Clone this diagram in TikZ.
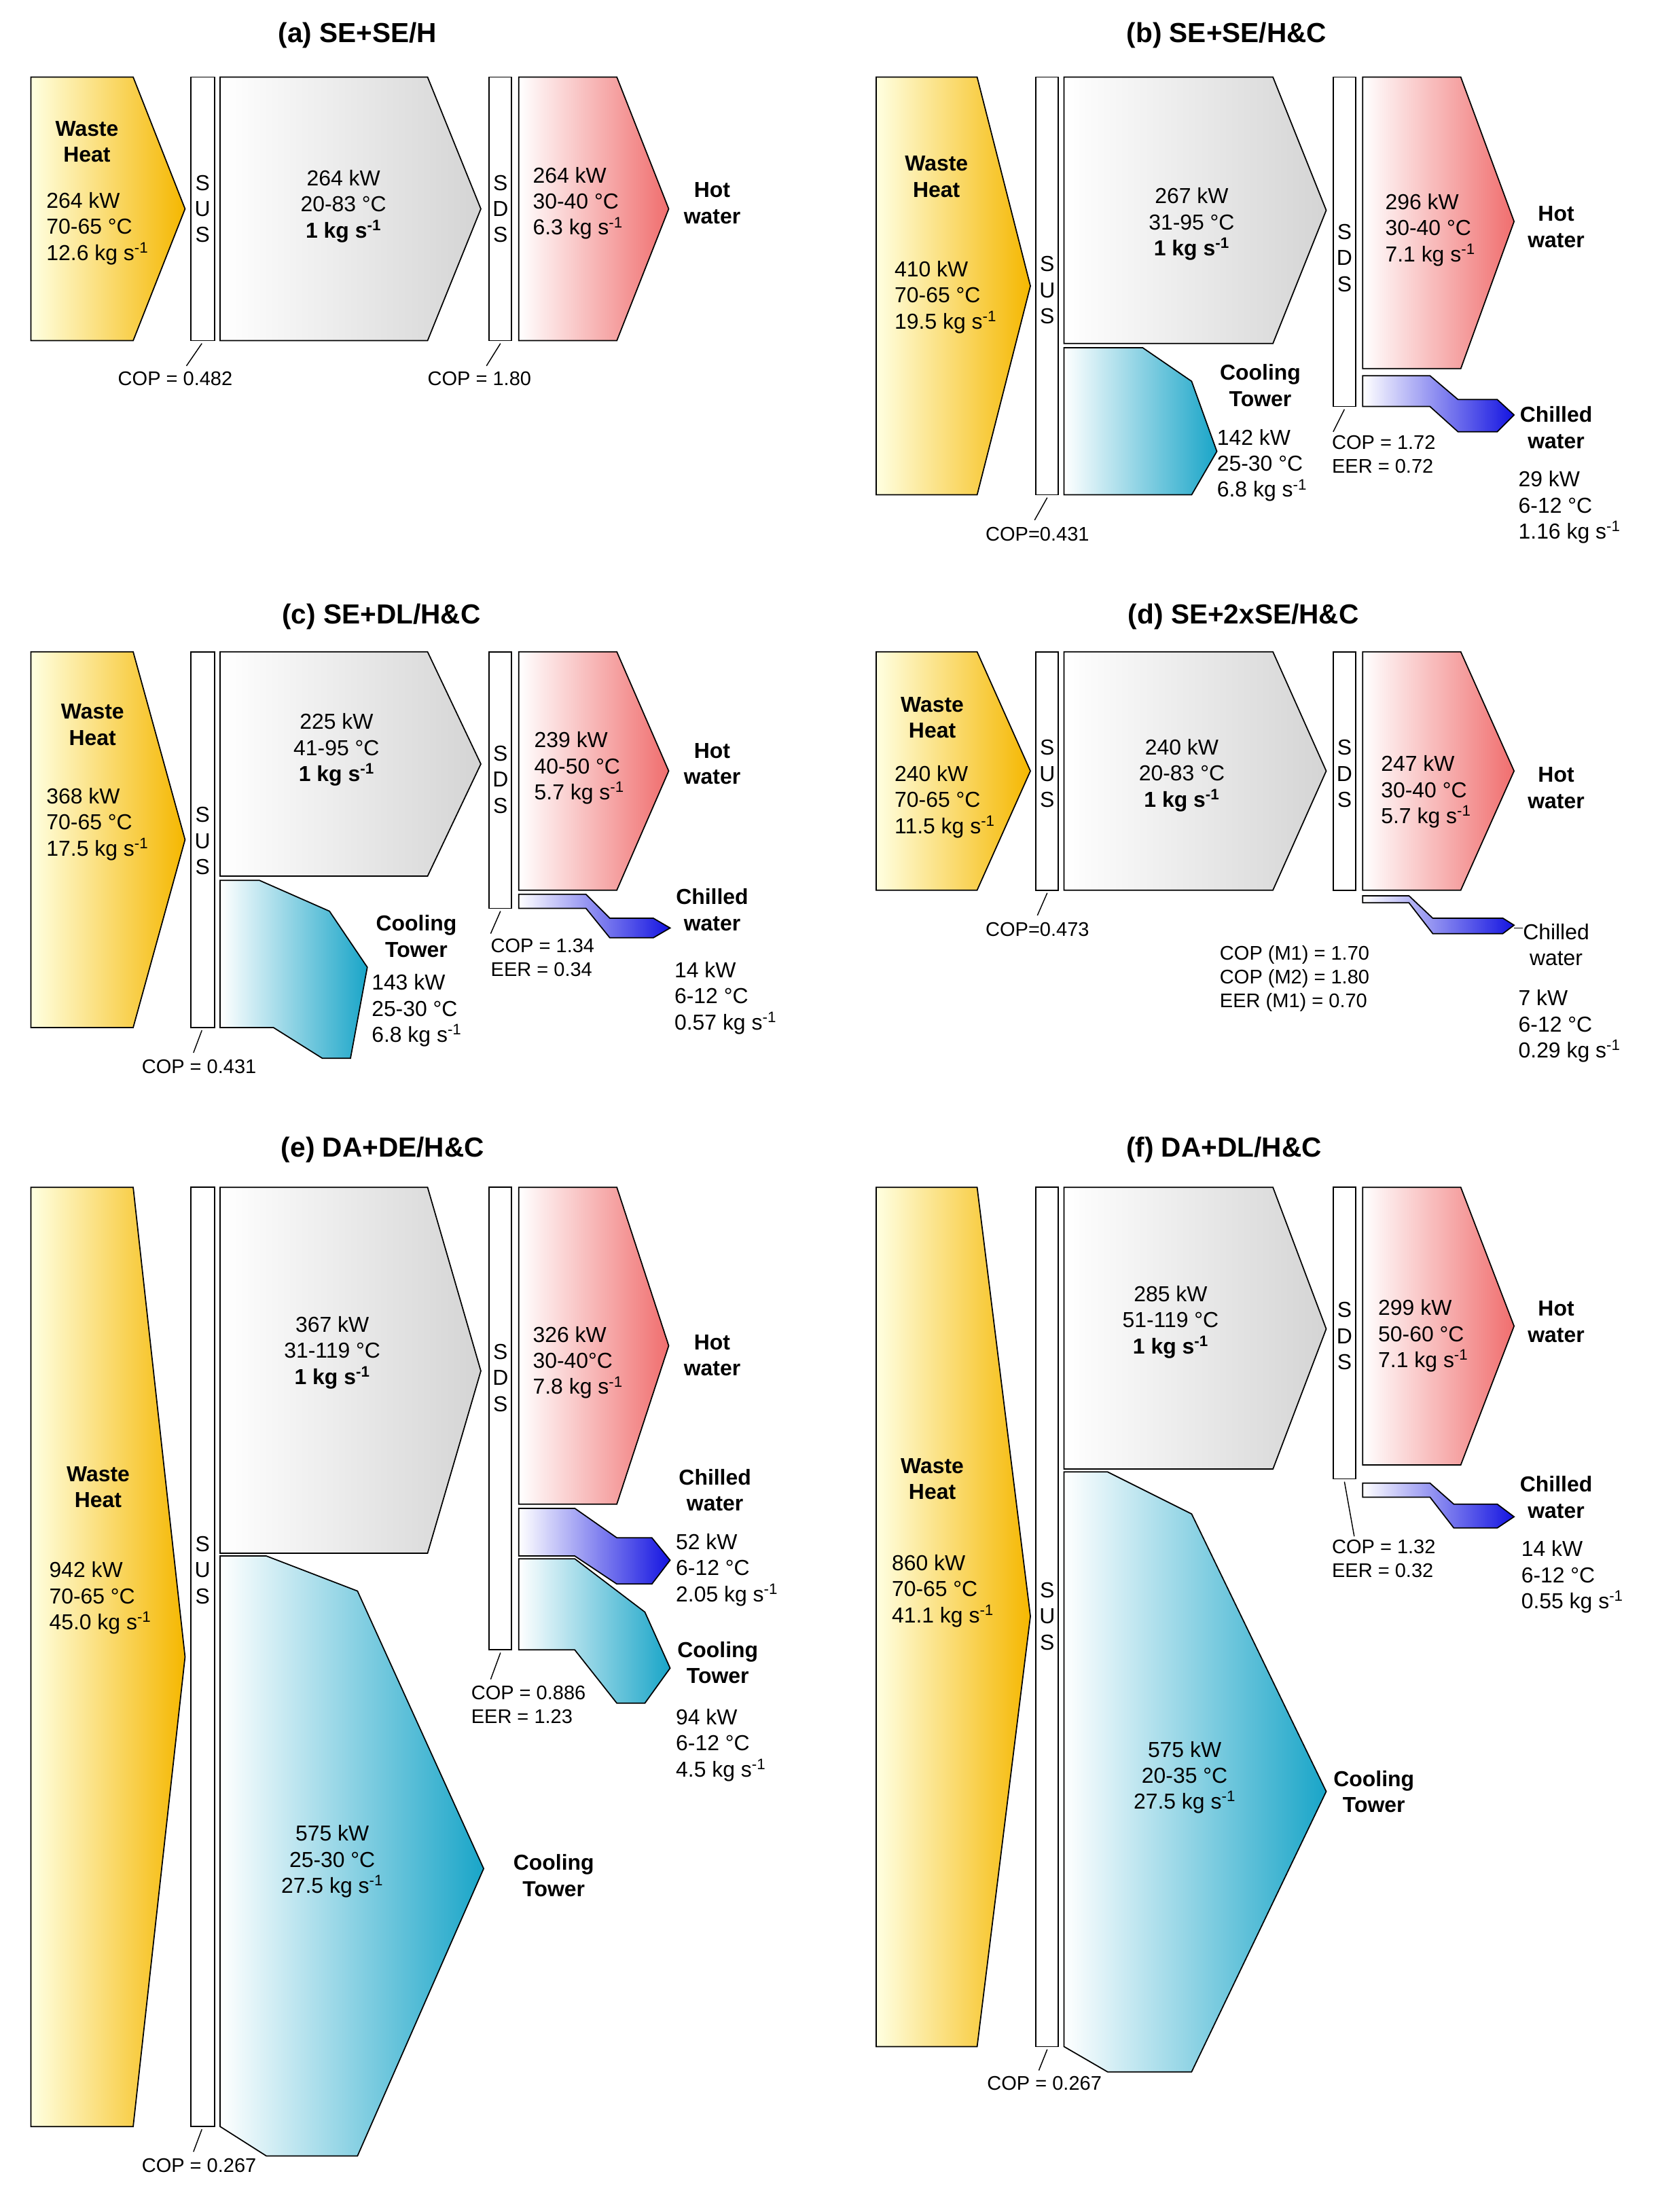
\documentclass[tikz,border=0pt]{standalone}
\usepackage{fontspec}
\setmainfont{Liberation Sans}
\begin{document}
\newcommand{\ks}{kg s\textsuperscript{-1}}
\begin{tikzpicture}[x=0.05cm,y=-0.05cm,
  every node/.style={font=\fontsize{22}{26.5}\selectfont,align=center,inner sep=0pt},
  ln/.style={draw=black,line width=1.2pt,line join=miter},
  wh/.style={ln,left color=yellow!12!white,right color={rgb,255:red,245;green,183;blue,0}},
  gr/.style={ln,left color=white,right color={rgb,255:red,212;green,212;blue,212}},
  rd/.style={ln,left color=white,right color={rgb,255:red,240;green,110;blue,110}},
  bl/.style={ln,left color=white,right color={rgb,255:red,20;green,20;blue,225}},
  cy/.style={ln,left color=white,right color={rgb,255:red,25;green,165;blue,200}},
  bar/.style={ln,fill=white},
  ttl/.style={font=\fontsize{28}{32}\selectfont\bfseries},
  bo/.style={font=\fontsize{22}{26.5}\selectfont\bfseries},
  sm/.style={font=\fontsize{20}{24}\selectfont},
  lead/.style={draw=black,line width=1pt}]
\useasboundingbox (0,0) rectangle (1184,1578);
% ===== (a)
\node[ttl] (ta) at (255,25) {(a) SE+SE/H};
\path[wh] (22,55)--(95,55)--(132,149)--(95,243)--(22,243)--cycle;
\path[bar] (136,55) rectangle (153,243);
\node (sa) at (144.5,149) {S\\U\\S};
\path[gr] (157,55)--(305,55)--(343,149)--(305,243)--(157,243)--cycle;
\path[bar] (349,55) rectangle (365,243);
\node (da) at (357,149) {S\\D\\S};
\path[rd] (370,55)--(440,55)--(477,149)--(440,243)--(370,243)--cycle;
\node[bo] (wa) at (62,101) {Waste\\Heat};
\node[anchor=west,align=left] (wan) at (33,163) {264 kW\\70-65 °C\\12.6 \ks};
\node (ga) at (245,147) {264 kW\\20-83 °C\\\textbf{1 \ks}};
\node[anchor=west,align=left] (ra) at (380,145) {264 kW\\30-40 °C\\6.3 \ks};
\node[bo] (ha) at (508,145) {Hot\\water};
\node[sm] (ca1) at (125,270) {COP = 0.482};
\node[sm] (ca2) at (342,270) {COP = 1.80};
\draw[lead] (144,245)--(133,261);
\draw[lead] (357,245)--(347,261);
% ===== (b)
\node[ttl] (tb) at (875,25) {(b) SE+SE/H\&C};
\path[wh] (625,55)--(697,55)--(735,204)--(697,353)--(625,353)--cycle;
\path[bar] (739,55) rectangle (755,353);
\node (sb) at (747,207) {S\\U\\S};
\path[gr] (759,55)--(908,55)--(946,150)--(908,245)--(759,245)--cycle;
\path[cy] (759,248)--(815,248)--(850,272)--(868,322)--(850,353)--(759,353)--cycle;
\path[bar] (951,55) rectangle (967,290);
\node (db) at (959,184) {S\\D\\S};
\path[rd] (972,55)--(1042,55)--(1080,158)--(1042,263)--(972,263)--cycle;
\path[bl] (972,268)--(1020,268)--(1040,285)--(1068,285)--(1080,296)--(1068,308)--(1040,308)--(1020,290)--(972,290)--cycle;
\node[bo] (wb) at (668,126) {Waste\\Heat};
\node[anchor=west,align=left] (wbn) at (638,212) {410 kW\\70-65 °C\\19.5 \ks};
\node (gb) at (850,160) {267 kW\\31-95 °C\\\textbf{1 \ks}};
\node[anchor=west,align=left] (rb) at (988,164) {296 kW\\30-40 °C\\7.1 \ks};
\node[bo] (hb) at (1110,162) {Hot\\water};
\node[bo] (cb) at (899,275) {Cooling\\Tower};
\node[anchor=west,align=left] (cbn) at (868,332) {142 kW\\25-30 °C\\6.8 \ks};
\node[bo] (chb) at (1110,305) {Chilled\\water};
\node[anchor=west,align=left] (chbn) at (1083,362) {29 kW\\6-12 °C\\1.16 \ks};
\node[sm,anchor=west,align=left] (eb) at (950,324) {COP = 1.72\\EER = 0.72};
\node[sm] (cb1) at (740,381) {COP=0.431};
\draw[lead] (747,355)--(738,371);
\draw[lead] (959,292)--(951,308);
% ===== (c)
\node[ttl] (tc) at (272,440) {(c) SE+DL/H\&C};
\path[wh] (22,465)--(95,465)--(132,599)--(95,733)--(22,733)--cycle;
\path[bar] (136,465) rectangle (153,733);
\node (sc) at (144.5,600) {S\\U\\S};
\path[gr] (157,465)--(305,465)--(343,545)--(305,625)--(157,625)--cycle;
\path[cy] (157,628)--(185,628)--(235,650)--(262,690)--(250,755)--(230,755)--(195,733)--(157,733)--cycle;
\path[bar] (349,465) rectangle (365,648);
\node (dc) at (357,556) {S\\D\\S};
\path[rd] (370,465)--(440,465)--(477,550)--(440,635)--(370,635)--cycle;
\path[bl] (370,638)--(418,638)--(435,655)--(466,655)--(478,662)--(466,669)--(435,669)--(418,648)--(370,648)--cycle;
\node[bo] (wc) at (66,517) {Waste\\Heat};
\node[anchor=west,align=left] (wcn) at (33,588) {368 kW\\70-65 °C\\17.5 \ks};
\node (gc) at (240,535) {225 kW\\41-95 °C\\\textbf{1 \ks}};
\node[anchor=west,align=left] (rc) at (381,548) {239 kW\\40-50 °C\\5.7 \ks};
\node[bo] (hc) at (508,545) {Hot\\water};
\node[bo] (cc) at (297,668) {Cooling\\Tower};
\node[anchor=west,align=left] (ccn) at (265,721) {143 kW\\25-30 °C\\6.8 \ks};
\node[bo] (chc) at (508,649) {Chilled\\water};
\node[anchor=west,align=left] (chcn) at (481,712) {14 kW\\6-12 °C\\0.57 \ks};
\node[sm,anchor=west,align=left] (ec) at (350,683) {COP = 1.34\\EER = 0.34};
\node[sm] (cc1) at (142,761) {COP = 0.431};
\draw[lead] (144,735)--(138,751);
\draw[lead] (357,650)--(350,666);
% ===== (d)
\node[ttl] (td) at (887,440) {(d) SE+2xSE/H\&C};
\path[wh] (625,465)--(697,465)--(735,550)--(697,635)--(625,635)--cycle;
\path[bar] (739,465) rectangle (755,635);
\node (sd) at (747,552) {S\\U\\S};
\path[gr] (759,465)--(908,465)--(946,550)--(908,635)--(759,635)--cycle;
\path[bar] (951,465) rectangle (967,635);
\node (dd) at (959,552) {S\\D\\S};
\path[rd] (972,465)--(1042,465)--(1080,550)--(1042,635)--(972,635)--cycle;
\path[bl] (972,639)--(1005,639)--(1022,655)--(1072,655)--(1080,660)--(1072,666)--(1022,666)--(1005,644)--(972,644)--cycle;
\draw[lead] (1080,662)--(1086,662);
\node[bo] (wd) at (665,512) {Waste\\Heat};
\node[anchor=west,align=left] (wdn) at (638,572) {240 kW\\70-65 °C\\11.5 \ks};
\node (gd) at (843,553) {240 kW\\20-83 °C\\\textbf{1 \ks}};
\node[anchor=west,align=left] (rd) at (985,565) {247 kW\\30-40 °C\\5.7 \ks};
\node[bo] (hd) at (1110,562) {Hot\\water};
\node (chd) at (1110,674) {Chilled\\water};
\node[anchor=west,align=left] (chdn) at (1083,732) {7 kW\\6-12 °C\\0.29 \ks};
\node[sm,anchor=west,align=left] (ed) at (870,698) {COP (M1) = 1.70\\COP (M2) = 1.80\\EER (M1) = 0.70};
\node[sm] (cd1) at (740,663) {COP=0.473};
\draw[lead] (747,637)--(740,653);
% ===== (e)
\node[ttl] (te) at (273,820) {(e) DA+DE/H\&C};
\path[wh] (22,847)--(95,847)--(132,1182)--(95,1517)--(22,1517)--cycle;
\path[bar] (136,847) rectangle (153,1517);
\node (se) at (144.5,1120) {S\\U\\S};
\path[gr] (157,847)--(305,847)--(343,978)--(305,1108)--(157,1108)--cycle;
\path[cy] (157,1110)--(190,1110)--(255,1135)--(345,1333)--(255,1538)--(190,1538)--(157,1517)--cycle;
\path[bar] (349,847) rectangle (365,1177);
\node (de) at (357,983) {S\\D\\S};
\path[rd] (370,847)--(440,847)--(477,960)--(440,1073)--(370,1073)--cycle;
\path[bl] (370,1076)--(410,1076)--(440,1097)--(465,1097)--(478,1113)--(465,1130)--(440,1130)--(410,1110)--(370,1110)--cycle;
\path[cy] (370,1112)--(410,1112)--(460,1150)--(478,1190)--(460,1215)--(440,1215)--(410,1177)--(370,1177)--cycle;
\node[bo] (we) at (70,1061) {Waste\\Heat};
\node[anchor=west,align=left] (wen) at (35,1140) {942 kW\\70-65 °C\\45.0 \ks};
\node (ge) at (237,965) {367 kW\\31-119 °C\\\textbf{1 \ks}};
\node[anchor=west,align=left] (re) at (380,972) {326 kW\\30-40°C\\7.8 \ks};
\node[bo] (he) at (508,967) {Hot\\water};
\node (cbe) at (237,1328) {575 kW\\25-30 °C\\27.5 \ks};
\node[bo] (cte) at (395,1338) {Cooling\\Tower};
\node[bo] (che) at (510,1063) {Chilled\\water};
\node[anchor=west,align=left] (chen) at (482,1120) {52 kW\\6-12 °C\\2.05 \ks};
\node[bo] (cse) at (512,1186) {Cooling\\Tower};
\node[anchor=west,align=left] (csen) at (482,1245) {94 kW\\6-12 °C\\4.5 \ks};
\node[sm,anchor=west,align=left] (ee) at (336,1216) {COP = 0.886\\EER = 1.23};
\node[sm] (ce1) at (142,1545) {COP = 0.267};
\draw[lead] (144,1519)--(138,1535);
\draw[lead] (357,1179)--(350,1198);
% ===== (f)
\node[ttl] (tf) at (873,820) {(f) DA+DL/H\&C};
\path[wh] (625,847)--(697,847)--(735,1153)--(697,1460)--(625,1460)--cycle;
\path[bar] (739,847) rectangle (755,1460);
\node (sf) at (747,1153) {S\\U\\S};
\path[gr] (759,847)--(908,847)--(946,948)--(908,1048)--(759,1048)--cycle;
\path[cy] (759,1050)--(790,1050)--(850,1080)--(946,1278)--(850,1478)--(790,1478)--(759,1460)--cycle;
\path[bar] (951,847) rectangle (967,1055);
\node (df) at (959,953) {S\\D\\S};
\path[rd] (972,847)--(1042,847)--(1080,946)--(1042,1045)--(972,1045)--cycle;
\path[bl] (972,1058)--(1020,1058)--(1037,1073)--(1068,1073)--(1080,1082)--(1068,1090)--(1037,1090)--(1020,1068)--(972,1068)--cycle;
\node[bo] (wf) at (665,1055) {Waste\\Heat};
\node[anchor=west,align=left] (wfn) at (636,1135) {860 kW\\70-65 °C\\41.1 \ks};
\node (gf) at (835,943) {285 kW\\51-119 °C\\\textbf{1 \ks}};
\node[anchor=west,align=left] (rf) at (983,953) {299 kW\\50-60 °C\\7.1 \ks};
\node[bo] (hf) at (1110,943) {Hot\\water};
\node (cbf) at (845,1268) {575 kW\\20-35 °C\\27.5 \ks};
\node[bo] (ctf) at (980,1278) {Cooling\\Tower};
\node[bo] (chf) at (1110,1068) {Chilled\\water};
\node[anchor=west,align=left] (chfn) at (1085,1125) {14 kW\\6-12 °C\\0.55 \ks};
\node[sm,anchor=west,align=left] (ef) at (950,1112) {COP = 1.32\\EER = 0.32};
\node[sm] (cf1) at (745,1486) {COP = 0.267};
\draw[lead] (747,1462)--(741,1477);
\draw[lead] (959,1057)--(966,1096);
\end{tikzpicture}
\end{document}
